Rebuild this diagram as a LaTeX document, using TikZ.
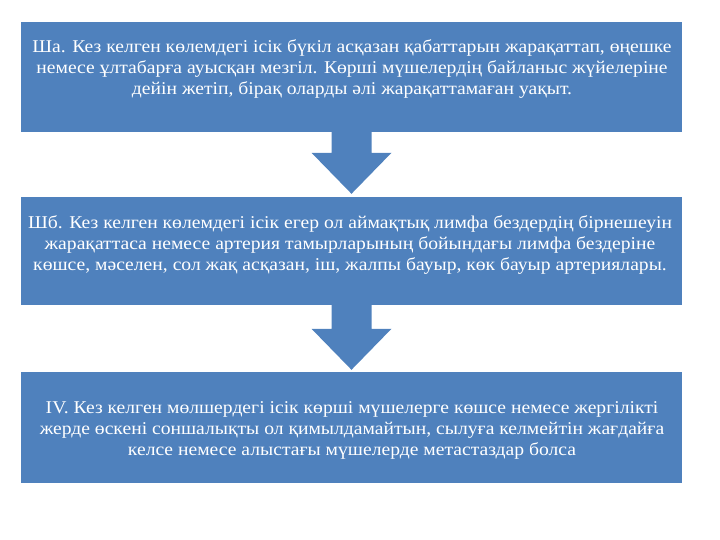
\documentclass[tikz,border=0pt]{standalone}
\usepackage{fontspec}
\setmainfont{Liberation Serif}
\newfontfamily\stagefont{Liberation Serif}[FakeStretch=1.09]
\usetikzlibrary{calc}
\definecolor{stageblue}{RGB}{79,129,189}
\begin{document}
\begin{tikzpicture}[x=1pt, y=1pt,
  stagebox/.style={rectangle, fill=stageblue, minimum width=661pt, inner sep=0pt},
  stagetxt/.style={text=white, align=center, font=\stagefont\fontsize{18}{21}\selectfont, inner sep=0pt}]
\useasboundingbox (0,0) rectangle (720,540);
\node[stagebox, minimum height=110pt] (stg0) at (351.5,463){};
\node[stagetxt] (txt0) at (352,470.5){Ша. Кез келген көлемдегі ісік бүкіл асқазан қабаттарын жарақаттап, өңешке\\немесе ұлтабарға ауысқан мезгіл. Көрші мүшелердің байланыс жүйелеріне\\дейін жетіп, бірақ оларды әлі жарақаттамаған уақыт.};
\node[stagebox, minimum height=108pt] (stg1) at (351.5,289){};
\node[stagetxt] (txt1) at (350,295){Шб. Кез келген көлемдегі ісік егер ол аймақтық лимфа бездердің бірнешеуін\\жарақаттаса немесе артерия тамырларының бойындағы лимфа бездеріне\\көшсе, мәселен, сол жақ асқазан, іш, жалпы бауыр, көк бауыр артериялары.};
\node[stagebox, minimum height=111pt] (stg2) at (351.5,112.5){};
\node[stagetxt] (txt2) at (352,110){IV. Кез келген мөлшердегі ісік көрші мүшелерге көшсе немесе жергілікті\\жерде өскені соншалықты ол қимылдамайтын, сылуға келмейтін жағдайға\\келсе немесе алыстағы мүшелерде метастаздар болса};
\fill[stageblue] ($(stg0.south)+(-20,0)$) -- ($(stg0.south)+(20,0)$) -- ($(stg1.north)+(20,44)$) -- ($(stg1.north)+(40,44)$) -- ($(stg1.north)+(0,3)$) -- ($(stg1.north)+(-40,44)$) -- ($(stg1.north)+(-20,44)$) -- cycle;
\fill[stageblue] ($(stg1.south)+(-20,0)$) -- ($(stg1.south)+(20,0)$) -- ($(stg2.north)+(20,43)$) -- ($(stg2.north)+(40,43)$) -- ($(stg2.north)+(0,2)$) -- ($(stg2.north)+(-40,43)$) -- ($(stg2.north)+(-20,43)$) -- cycle;

\end{tikzpicture}
\end{document}
